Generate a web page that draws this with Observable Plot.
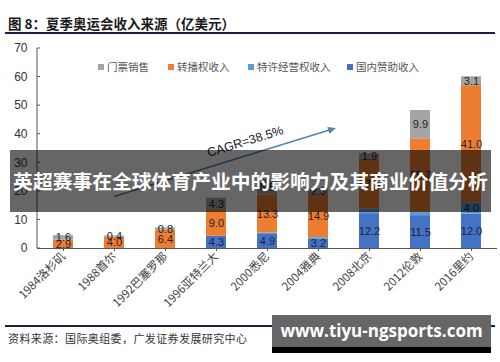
<!DOCTYPE html>
<html>
<head>
<meta charset="utf-8">
<script src="https://cdn.jsdelivr.net/npm/d3@7"></script>
<script src="https://cdn.jsdelivr.net/npm/@observablehq/plot@0.6"></script>
<style>
  html, body { margin: 0; padding: 0; background: #fff; }
  #wrap { position: relative; width: 500px; height: 362px; overflow: hidden; background: #fff; font-family: "Noto Sans CJK SC", "Liberation Sans", sans-serif; }
  #chart { position: absolute; left: 0; top: 0; }
  .abs { position: absolute; }
  #title { left: 8px; top: 13px; font-size: 13.5px; font-weight: 700; color: #1a1a1a; line-height: 20px; white-space: nowrap; }
  #titleLine { left: 5px; top: 31.5px; width: 490px; height: 2px; background: #1b1f4a; }
  #legend { left: 0; top: 59px; width: 500px; height: 16px; }
  .lg { position: absolute; top: 0; font-size: 10.5px; color: #555; line-height: 16px; white-space: nowrap; }
  .lg i { display: inline-block; width: 6px; height: 6px; margin-right: 3px; vertical-align: 1px; }
  #banner { left: 10px; top: 150px; width: 481px; height: 62px; background: rgba(0,0,0,0.6); color: #fff; font-weight: 700; font-size: 19.8px; line-height: 62px; text-align: center; white-space: nowrap; z-index: 3; }
  #srcLine { left: 5px; top: 325px; width: 490px; height: 1.5px; background: #1b1f4a; }
  #source { left: 8px; top: 330px; font-size: 11px; letter-spacing: 0.4px; color: #333; line-height: 16px; white-space: nowrap; }
  #wm { left: 272px; top: 315px; width: 219px; height: 38px; background: #666; z-index: 4; }
  #wmText { position: absolute; left: 0; top: 0; width: 219px; height: 32px; line-height: 32px; text-align: center; color: #fff; font-family: "Open Sans", "DejaVu Sans", sans-serif; font-weight: 700; font-size: 17px; }
  #wmBar { position: absolute; left: 0; top: 32px; width: 219px; height: 6px; background: #000; }
</style>
</head>
<body>
<div id="wrap">
  <div id="chart"></div>
  <div id="title" class="abs"></div>
  <div id="titleLine" class="abs"></div>
  <div id="legend" class="abs"></div>
  <div id="banner" class="abs"></div>
  <div id="srcLine" class="abs"></div>
  <div id="source" class="abs"></div>
  <div id="wm" class="abs"><div id="wmText"></div><div id="wmBar"></div></div>
</div>
<script>
// ---- Data ----
const games = ["1984洛杉矶","1988首尔","1992巴塞罗那","1996亚特兰大","2000悉尼","2004雅典","2008北京","2012伦敦","2016里约"];
// series, stacked bottom -> top
const domesticSponsorship = [0, 0, 0, 4.3, 4.9, 3.2, 12.2, 11.5, 12.0]; // 国内赞助收入
const licensing           = [0, 0, 0, 0, 0.5, 0.6, 1.6, 1.2, 4.0];     // 特许经营权收入
const broadcast           = [2.9, 4.0, 6.4, 9.0, 13.3, 14.9, 17.4, 25.7, 41.0]; // 转播权收入
const ticketing           = [1.6, 0.4, 0.8, 4.3, 5.5, 2.3, 1.9, 9.9, 3.1];  // 门票销售

const legendNames = ["门票销售","转播权收入","特许经营权收入","国内赞助收入"];
const legendColors = ["#A5A5A5","#ED7D31","#5B9BD5","#4472C4"];
const yTicks = [0, 10, 20, 30, 40, 50, 60, 70];

const titleText = "图 8：夏季奥运会收入来源（亿美元）";
const sourceText = "资料来源：国际奥组委，广发证券发展研究中心";
const bannerText = "英超赛事在全球体育产业中的影响力及其商业价值分析";
const watermarkText = "www.tiyu-ngsports.com";
const cagrText = "CAGR=38.5%";
const cagrFrom = {game: "1988首尔", value: 18};
const cagrTo = {game: "2004雅典", value: 42};

// ---- Build table ----
const seriesList = [
  {name: "国内赞助收入", values: domesticSponsorship, minLabel: 0.1},
  {name: "特许经营权收入", values: licensing, minLabel: 2},
  {name: "转播权收入", values: broadcast, minLabel: 0.1},
  {name: "门票销售", values: ticketing, minLabel: 0.1}
];
const rows = [];
for (const s of seriesList) {
  games.forEach((g, i) => rows.push({game: g, series: s.name, value: s.values[i], show: s.values[i] >= s.minLabel}));
}

const chart = Plot.plot({
  width: 500,
  height: 362,
  marginLeft: 37,
  marginRight: 3,
  marginTop: 48,
  marginBottom: 114,
  style: {background: "transparent", overflow: "visible"},
  x: {domain: games, paddingInner: 0.6, paddingOuter: 0.3, label: null},
  y: {domain: [0, 70], label: null},
  color: {domain: legendNames, range: legendColors},
  marks: [
    Plot.barY(rows, {x: "game", y: "value", fill: "series"}),
    Plot.text(rows, Plot.stackY({
      x: "game", y: "value", z: "series",
      text: d => d.show ? d.value.toFixed(1) : "",
      fill: "#1e2233", fontSize: 11, fontFamily: "Liberation Sans, Arial, sans-serif"
    })),
    Plot.ruleY([0], {stroke: "#555", strokeWidth: 1}),
    Plot.axisY({ticks: yTicks, tickSize: 0, tickPadding: 10, fontSize: 12, fontFamily: "Liberation Sans, Arial, sans-serif", fill: "#333", label: null}),
    Plot.axisX({tickRotate: -45, tickSize: 3, tickPadding: 3, fontSize: 11.5, fontFamily: "Noto Sans CJK SC, sans-serif", fill: "#444", stroke: "#555", label: null})
  ]
});
document.getElementById("chart").appendChild(chart);

// ---- Axis line, inner ticks and CAGR annotation via Plot's scales ----
const xs = chart.scale("x"), ys = chart.scale("y");
const cx = g => xs.apply(g) + xs.bandwidth / 2;
const svg = d3.select(chart);
const left = xs.range[0];
const ann = svg.append("g");
ann.append("line").attr("x1", left).attr("x2", left)
  .attr("y1", ys.apply(70)).attr("y2", ys.apply(0)).attr("stroke", "#555");
ann.selectAll("line.tk").data(yTicks).join("line").attr("class", "tk")
  .attr("x1", left).attr("x2", left + 3)
  .attr("y1", d => ys.apply(d)).attr("y2", d => ys.apply(d)).attr("stroke", "#555");

const ax1 = cx(cagrFrom.game), ay1 = ys.apply(cagrFrom.value);
const ax2 = cx(cagrTo.game) + xs.bandwidth * 0.9, ay2 = ys.apply(cagrTo.value);
const ang = Math.atan2(ay2 - ay1, ax2 - ax1);
const arrowColor = "#4f86ad";
ann.append("line").attr("x1", ax1).attr("y1", ay1)
  .attr("x2", ax2 - 6 * Math.cos(ang)).attr("y2", ay2 - 6 * Math.sin(ang))
  .attr("stroke", arrowColor).attr("stroke-width", 1.6);
const hl = 8, hw = 3.5;
const bx = ax2 - hl * Math.cos(ang), by = ay2 - hl * Math.sin(ang);
ann.append("path")
  .attr("d", `M${ax2},${ay2}L${bx + hw * Math.sin(ang)},${by - hw * Math.cos(ang)}L${bx - hw * Math.sin(ang)},${by + hw * Math.cos(ang)}Z`)
  .attr("fill", arrowColor);
const t = 0.61;
const tx = ax1 + t * (ax2 - ax1) + 13 * Math.sin(ang);
const ty = ay1 + t * (ay2 - ay1) - 13 * Math.cos(ang);
ann.append("text").attr("x", tx).attr("y", ty)
  .attr("transform", `rotate(${ang * 180 / Math.PI},${tx},${ty})`)
  .attr("text-anchor", "middle").attr("dominant-baseline", "middle")
  .attr("font-family", "Liberation Sans, Arial, sans-serif").attr("font-size", 12.5)
  .attr("fill", "#222").text(cagrText);

// ---- Text elements ----
document.getElementById("title").textContent = titleText;
document.getElementById("source").textContent = sourceText;
document.getElementById("banner").textContent = bannerText;
document.getElementById("wmText").textContent = watermarkText;
const legendX = [98, 168, 248, 347];
const lg = document.getElementById("legend");
legendNames.forEach((n, i) => {
  const s = document.createElement("span");
  s.className = "lg";
  s.style.left = legendX[i] + "px";
  const sw = document.createElement("i");
  sw.style.background = legendColors[i];
  s.appendChild(sw);
  s.appendChild(document.createTextNode(n));
  lg.appendChild(s);
});
</script>
</body>
</html>
